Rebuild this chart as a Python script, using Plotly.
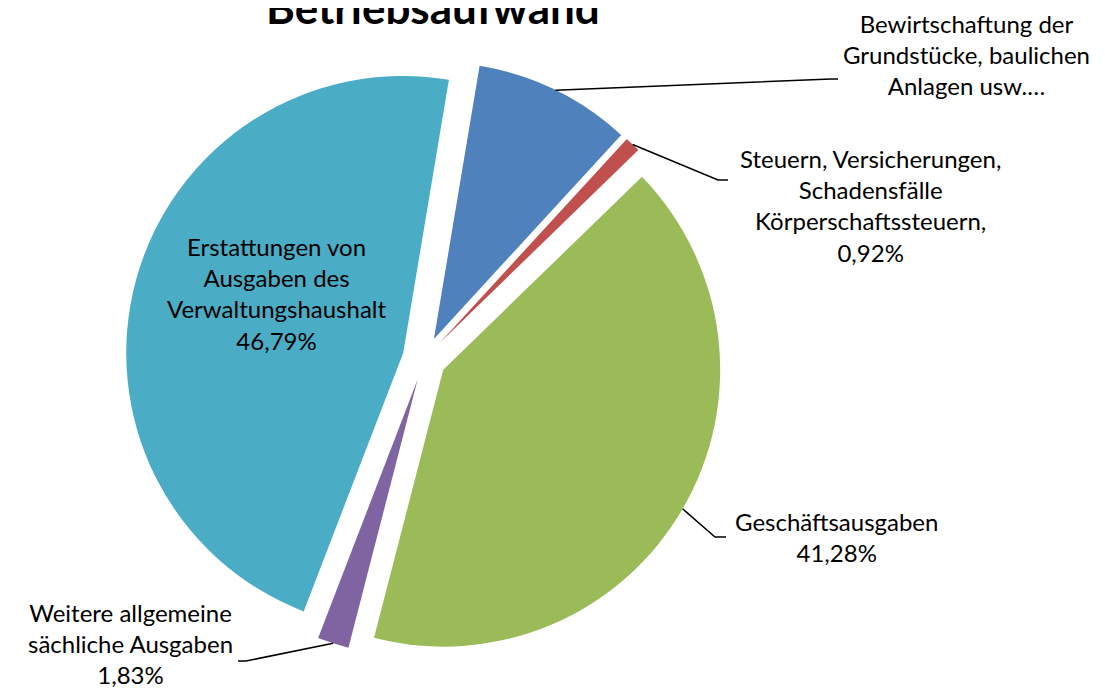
import math
import plotly.graph_objects as go

W, H = 1105, 691

# data (share of Betriebsaufwand in %)
categories = [
    "Bewirtschaftung der Grundstücke, baulichen Anlagen usw.…",
    "Steuern, Versicherungen, Schadensfälle Körperschaftssteuern",
    "Geschäftsausgaben",
    "Weitere allgemeine sächliche Ausgaben",
    "Erstattungen von Ausgaben des Verwaltungshaushalt",
]
values = [9.18, 0.92, 41.28, 1.83, 46.79]
label_lines = [
    ["Bewirtschaftung der", "Grundstücke, baulichen", "Anlagen usw.…"],
    ["Steuern, Versicherungen,", "Schadensfälle", "Körperschaftssteuern,"],
    ["Geschäftsausgaben"],
    ["Weitere allgemeine", "sächliche Ausgaben"],
    ["Erstattungen von", "Ausgaben des", "Verwaltungshaushalt"],
]
show_percent = [False, True, True, True, True]
colors = ["#4F81BD", "#C0504D", "#9BBB59", "#8064A2", "#4BACC6"]

# layout settings
rotation = 9.5
pull = 0.079
dom_x = [0.1063, 0.6472]
dom_y = [0.0600, 0.9250]
font = "Lato"
label_size = 24

# label centres and leader-line elbow/end points (pixels, None = inside label)
label_pos = [(958, 47), (862, 197), (828, 529), (122, 635), (268, 285)]
leaders = [
    [(823, 71), (830, 71)],
    [(710, 172), (720, 172)],
    [(707, 529), (718, 529)],
    [(238, 653), (230, 653)],
    None,
]


def px(x, y):
    return x / W, 1 - y / H


# pie geometry as plotly computes it
bw = W * (dom_x[1] - dom_x[0])
bh = H * (dom_y[1] - dom_y[0])
R = min(bw, bh) / (2 + 2 * pull)
cx = W * (dom_x[0] + dom_x[1]) / 2
cy = H * (1 - dom_y[0]) - bh / 2

fig = go.Figure(go.Pie(
    labels=categories,
    values=values,
    sort=False,
    direction="clockwise",
    rotation=rotation,
    pull=[pull] * len(values),
    marker=dict(colors=colors, line=dict(width=0)),
    textinfo="none",
    hoverinfo="label+percent",
    domain=dict(x=dom_x, y=dom_y),
    showlegend=False,
))

total = sum(values)
start = 0.0
annotations = []
shapes = []
for i, v in enumerate(values):
    mid = math.radians(rotation + 360 * (start + v / 2) / total)
    start += v
    text_lines = list(label_lines[i])
    if show_percent[i]:
        text_lines.append(f"{100 * v / total:.2f}".replace(".", ",") + "%")
    lx, ly = px(*label_pos[i])
    annotations.append(dict(
        x=lx, y=ly, xref="paper", yref="paper",
        text="<br>".join(text_lines), showarrow=False,
        xanchor="center", yanchor="middle", align="center",
        font=dict(family=font, size=label_size, color="black"),
    ))
    if leaders[i] is not None:
        ax = cx + R * (1 + pull) * math.sin(mid)
        ay = cy - R * (1 + pull) * math.cos(mid)
        pts = [px(ax, ay)] + [px(x, y) for x, y in leaders[i]]
        path = "M " + " L ".join(f"{x:.5f},{y:.5f}" for x, y in pts)
        shapes.append(dict(type="path", path=path, xref="paper", yref="paper",
                           line=dict(color="black", width=1.5)))

annotations.append(dict(
    x=px(425, 0)[0], y=px(0, -1)[1], xref="paper", yref="paper",
    text="<b>Betriebsaufwand</b>", showarrow=False,
    xanchor="center", yanchor="middle",
    font=dict(family=font, size=44, color="black"),
))

fig.update_layout(
    width=W, height=H,
    margin=dict(l=0, r=0, t=0, b=0),
    paper_bgcolor="white",
    plot_bgcolor="white",
    annotations=annotations,
    shapes=shapes,
)

fig.write_html("out.html")
